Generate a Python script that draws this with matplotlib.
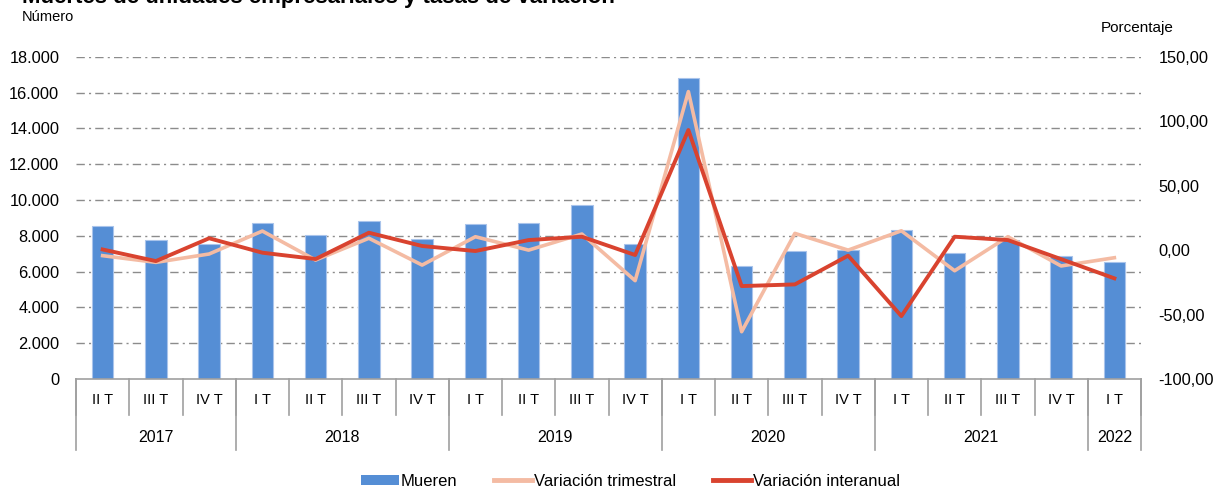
import numpy as np
import matplotlib
matplotlib.use('Agg')
import matplotlib.pyplot as plt
from matplotlib.ticker import FuncFormatter
from matplotlib.patches import Patch
from matplotlib.lines import Line2D

plt.rcParams['font.family'] = ['Liberation Sans', 'DejaVu Sans']

# Data
quarters = ['II T', 'III T', 'IV T',
            'I T', 'II T', 'III T', 'IV T',
            'I T', 'II T', 'III T', 'IV T',
            'I T', 'II T', 'III T', 'IV T',
            'I T', 'II T', 'III T', 'IV T',
            'I T']
years = ['2017', '2018', '2019', '2020', '2021', '2022']
year_sizes = [3, 4, 4, 4, 4, 1]

mueren = [8560, 7750, 7560, 8700, 8050, 8810, 7820,
          8660, 8700, 9720, 7530,
          16800, 6310, 7170, 7210,
          8320, 7020, 7750, 6870, 6540]
var_trimestral = [-4.3, -9.5, -3.0, 14.8, -7.7, 9.2, -11.6,
                  10.4, 0.0, 12.5, -23.7,
                  123.0, -63.3, 13.0, 0.0,
                  15.0, -16.0, 10.4, -12.3, -5.9]
var_interanual = [0.5, -8.5, 9.2, -2.0, -6.9, 13.5, 3.2,
                  -0.7, 7.8, 10.4, -3.8,
                  93.2, -27.9, -26.6, -4.3,
                  -51.2, 10.4, 7.8, -7.0, -21.9]

blue = '#558ED5'
salmon = '#F4BBA3'
red = '#D9432F'
grid_col = '#8C8C8C'

fig = plt.figure(figsize=(12.24, 4.91), dpi=100)
ax = fig.add_axes([0.0621, 0.2281, 0.8701, 0.6562])
ax2 = ax.twinx()

x = np.arange(len(mueren))
ax.bar(x, mueren, width=0.4, color=blue, edgecolor='#A9C4EB', linewidth=0.8, zorder=2)
ax.set_xlim(-0.5, len(mueren) - 0.5)
ax.set_ylim(0, 18000)
ax.set_yticks(np.arange(0, 18001, 2000))
ax.yaxis.set_major_formatter(FuncFormatter(lambda v, p: f'{int(v):,}'.replace(',', '.')))
for yv in range(2000, 18001, 2000):
    ax.axhline(yv, color=grid_col, lw=1.0, ls=(0, (6, 3, 1.5, 3)), zorder=0)

ax2.plot(x, var_trimestral, color=salmon, lw=2.6, zorder=3)
ax2.plot(x, var_interanual, color=red, lw=2.8, zorder=4)
ax2.set_ylim(-100, 150)
ax2.set_yticks(np.arange(-100, 151, 50))
ax2.yaxis.set_major_formatter(FuncFormatter(lambda v, p: f'{v:.2f}'.replace('.', ',')))

for a in (ax, ax2):
    for s in a.spines.values():
        s.set_visible(False)
    a.tick_params(axis='y', length=0, labelsize=11.8, colors='black')
ax.tick_params(axis='y', pad=12)
ax2.tick_params(axis='y', pad=12.5)
ax.set_xticks([])
ax.spines['bottom'].set_visible(True)
ax.spines['bottom'].set_color('#A0A0A0')
ax.spines['bottom'].set_linewidth(1.2)

# multi-level category axis
tr = ax.get_xaxis_transform()
axis_col = '#A0A0A0'
for i in range(len(quarters) + 1):
    ax.plot([i - 0.5, i - 0.5], [0, -0.112], transform=tr, color=axis_col, lw=1.2, clip_on=False)
for i, q in enumerate(quarters):
    ax.text(i, -0.065, q, transform=tr, ha='center', va='center', fontsize=10.5)
start = 0
for yr, n in zip(years, year_sizes):
    ax.plot([start - 0.5, start - 0.5], [0, -0.22], transform=tr, color=axis_col, lw=1.2, clip_on=False)
    ax.text(start + (n - 1) / 2, -0.183, yr, transform=tr, ha='center', va='center', fontsize=11.5)
    start += n
ax.plot([start - 0.5, start - 0.5], [0, -0.22], transform=tr, color=axis_col, lw=1.2, clip_on=False)

fig.text(22 / 1224, 1 - 3 / 491, 'Muertes de unidades empresariales y tasas de variación',
         fontsize=16, fontweight='bold', ha='left', va='baseline')
fig.text(22 / 1224, 1 - 17 / 491, 'Número', fontsize=10.5, ha='left', va='center')
fig.text(1174 / 1224, 1 - 28 / 491, 'Porcentaje', fontsize=11, ha='right', va='center')

handles = [Patch(facecolor=blue, edgecolor='none'),
           Line2D([0], [0], color=salmon, lw=3.5),
           Line2D([0], [0], color=red, lw=3.5)]
labels = ['Mueren', 'Variación trimestral', 'Variación interanual']
fig.legend(handles, labels, loc='center', bbox_to_anchor=(0.515, 1 - 481 / 491), ncol=3,
           frameon=False, fontsize=12, handlelength=2.3, handletextpad=0.1,
           columnspacing=2.2, handleheight=0.55)

fig.savefig('out.png', dpi=100)
